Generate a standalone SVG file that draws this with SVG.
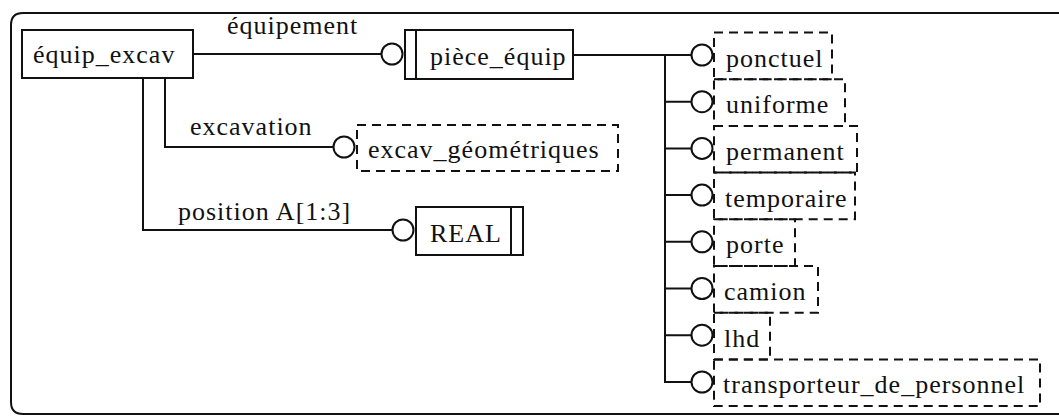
<svg xmlns="http://www.w3.org/2000/svg" width="1059" height="417" viewBox="0 0 1059 417">
<style>
  .t { font-family: "Liberation Serif", "Times New Roman", serif; font-size: 26px; letter-spacing: 1px; fill: #111; }
  .box { fill: none; stroke: #111; stroke-width: 2; }
  .dbox { fill: none; stroke: #111; stroke-width: 2; stroke-dasharray: 9 6; }
  .ln { fill: none; stroke: #111; stroke-width: 2; }
  .c { fill: #fff; stroke: #111; stroke-width: 2; }
</style>
<rect x="0" y="0" width="1059" height="417" fill="#fff"/>
<path class="ln" d="M 1059 13 H 23 Q 11 13 11 25 V 402 Q 11 414 23 414 H 1059"/>

<g id="connectors">
  <path class="ln" d="M 193 54 H 382"/>
  <path class="ln" d="M 165 78 V 147 H 334"/>
  <path class="ln" d="M 143 78 V 230 H 393"/>
  <path class="ln" d="M 573 55 H 692"/>
  <path class="ln" d="M 665 55 V 382 H 692"/>
  <path class="ln" d="M 665 101.7 H 692 M 665 148.4 H 692 M 665 195.1 H 692 M 665 241.8 H 692 M 665 288.5 H 692 M 665 335.2 H 692"/>
  <text class="t" x="227" y="34">équipement</text>
  <text class="t" x="190" y="135">excavation</text>
  <text class="t" x="178" y="220">position A[1:3]</text>
  <circle class="c" cx="392" cy="54" r="10.5"/>
  <circle class="c" cx="344" cy="147" r="10.5"/>
  <circle class="c" cx="403" cy="230" r="10.5"/>
  <circle class="c" cx="702" cy="55" r="10.5"/>
  <circle class="c" cx="702" cy="101.7" r="10.5"/>
  <circle class="c" cx="702" cy="148.4" r="10.5"/>
  <circle class="c" cx="702" cy="195.1" r="10.5"/>
  <circle class="c" cx="702" cy="241.8" r="10.5"/>
  <circle class="c" cx="702" cy="288.5" r="10.5"/>
  <circle class="c" cx="702" cy="335.2" r="10.5"/>
  <circle class="c" cx="702" cy="382" r="10.5"/>
</g>

<g id="equip_excav">
  <rect class="box" x="22" y="30" width="171" height="48"/>
  <text class="t" x="33" y="63">équip_excav</text>
</g>

<g id="piece_equip">
  <rect class="box" x="405" y="30" width="168" height="49"/>
  <line class="ln" x1="416" y1="30" x2="416" y2="79"/>
  <text class="t" x="430" y="65">pièce_équip</text>
</g>

<g id="excav_geometriques">
  <rect class="dbox" x="357" y="125" width="261" height="46"/>
  <text class="t" x="368" y="158">excav_géométriques</text>
</g>

<g id="REAL">
  <rect class="box" x="416" y="207" width="107" height="48"/>
  <line class="ln" x1="511" y1="207" x2="511" y2="255"/>
  <text class="t" x="430" y="242">REAL</text>
</g>

<g id="ponctuel">
  <rect class="dbox" x="714" y="32.5" width="118" height="46.7"/>
  <text class="t" x="726" y="66.5">ponctuel</text>
</g>
<g id="uniforme">
  <rect class="dbox" x="714" y="79.2" width="131" height="46.7"/>
  <text class="t" x="726" y="113.2">uniforme</text>
</g>
<g id="permanent">
  <rect class="dbox" x="714" y="125.9" width="143" height="46.7"/>
  <text class="t" x="726" y="159.9">permanent</text>
</g>
<g id="temporaire">
  <rect class="dbox" x="714" y="172.6" width="141" height="46.7"/>
  <text class="t" x="725" y="206.6">temporaire</text>
</g>
<g id="porte">
  <rect class="dbox" x="714" y="219.3" width="81" height="46.7"/>
  <text class="t" x="726" y="253.3">porte</text>
</g>
<g id="camion">
  <rect class="dbox" x="714" y="266" width="104" height="46.7"/>
  <text class="t" x="724" y="300">camion</text>
</g>
<g id="lhd">
  <rect class="dbox" x="714" y="312.7" width="56" height="46.7"/>
  <text class="t" x="724" y="346.7">lhd</text>
</g>
<g id="transporteur_de_personnel">
  <rect class="dbox" x="714" y="359.4" width="326" height="46.7"/>
  <text class="t" x="723" y="393.4">transporteur_de_personnel</text>
</g>
</svg>
